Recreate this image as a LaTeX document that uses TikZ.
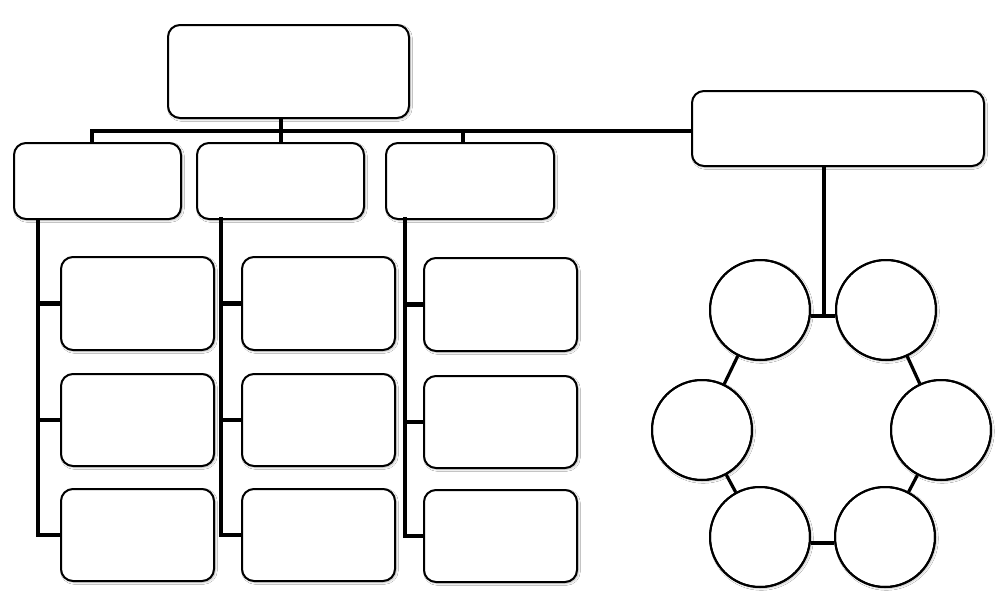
\documentclass[tikz,border=0pt]{standalone}
\usetikzlibrary{shadows.blur}
\tikzset{
  shd/.style={blur shadow={shadow xshift=1pt,shadow yshift=-1pt,shadow blur radius=1.5pt,shadow opacity=30}},
  box/.style={draw=black,line width=1.5pt,fill=white,rounded corners=9pt,inner sep=0pt,shd},
  ring/.style={draw=black,line width=1.5pt,fill=white,circle,inner sep=0pt,minimum size=75pt,shd},
  conn/.style={draw=black,line width=3.3pt,line join=miter},
  thin conn/.style={draw=black,line width=2.4pt}
}
\newcommand\bx[5]{\node[box,minimum width=#4*0.75pt,minimum height=#5*0.75pt] (#1) at (#2,#3) {};}
\begin{document}
\begin{tikzpicture}[x=0.75pt,y=-0.75pt]
\useasboundingbox[fill=white] (0,0) rectangle (1001,614);
% boxes
\bx{top}{288.5}{71.5}{241}{93}
\bx{R}{838}{128.5}{292}{75}
\bx{A}{97.5}{181}{167}{76}
\bx{B}{280.5}{181}{167}{76}
\bx{C}{470}{181}{168}{76}
\bx{a1}{137.5}{303.5}{153}{93}
\bx{a2}{137.5}{420}{153}{92}
\bx{a3}{137.5}{535}{153}{92}
\bx{b1}{318.5}{303.5}{153}{93}
\bx{b2}{318.5}{420}{153}{92}
\bx{b3}{318.5}{535}{153}{92}
\bx{c1}{500.5}{304.5}{153}{93}
\bx{c2}{500.5}{422}{153}{92}
\bx{c3}{500.5}{536}{153}{92}
% circles
\node[ring] (tl) at (760,310) {};
\node[ring] (tr) at (886,310) {};
\node[ring] (l) at (702,430) {};
\node[ring] (r) at (941,430) {};
\node[ring] (bl) at (760,537) {};
\node[ring] (br) at (885,537) {};
% bus
\coordinate (j1) at (92,131);
\coordinate (j3) at (463,131);
\draw[conn] (j1 |- A.north) -- (j1) -- (j1 -| R.west);
\draw[conn] (j3) -- (j3 |- C.north);
\draw[conn] (B.north -| 281,0) -- (top.south -| 281,0);
% spines
\coordinate (s1) at (38,219);
\coordinate (s2) at (221,217);
\coordinate (s3) at (405,217);
\draw[conn] (s1) |- (a3.west);
\draw[conn] (a1.west) -- (a1.west -| s1);
\draw[conn] (a2.west) -- (a2.west -| s1);
\draw[conn] (s2) |- (b3.west);
\draw[conn] (b1.west) -- (b1.west -| s2);
\draw[conn] (b2.west) -- (b2.west -| s2);
\draw[conn] (s3) |- (c3.west);
\draw[conn] (c1.west) -- (c1.west -| s3);
\draw[conn] (c2.west) -- (c2.west -| s3);
% right cluster
\coordinate (m) at (824,316);
\coordinate (m2) at (823,543);
\draw[conn] (R.south -| m) -- (m);
\draw[thin conn] (tl.east |- m) -- (tr.west |- m);
\draw[thin conn] (bl.east |- m2) -- (br.west |- m2);
\draw[thin conn] (tl) -- (l);
\draw[thin conn] (l) -- (bl);
\draw[thin conn] (tr) -- (r);
\draw[thin conn] (r) -- (br);
% redraw circle outlines over connector ends
\foreach \n/\x/\y in {tl/760/310,tr/886/310,l/702/430,r/941/430,bl/760/537,br/885/537}
  \draw[line width=1.5pt] (\x,\y) circle[radius=50];
\end{tikzpicture}
\end{document}
